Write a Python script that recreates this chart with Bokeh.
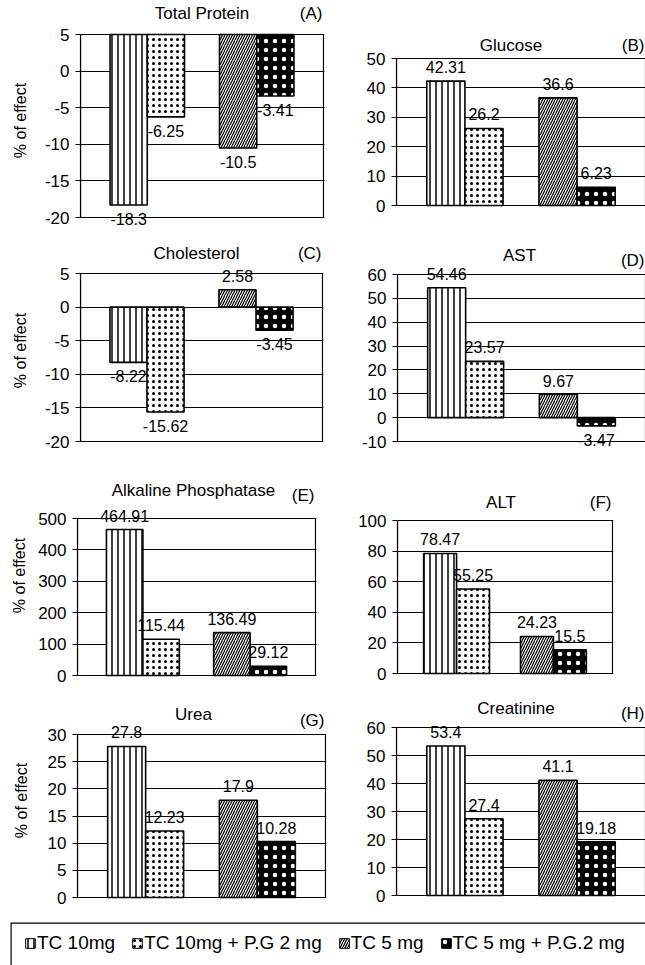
from bokeh.plotting import figure
from bokeh.models import (ColumnDataSource, Range1d, FixedTicker, LabelSet,
                          Label, Legend, LegendItem, PrintfTickFormatter)
from bokeh.core.properties import value
from bokeh.layouts import column, row
from bokeh.embed import file_html
from bokeh.resources import INLINE

# ---------------- data ----------------
panels = ["Total Protein", "Glucose", "Cholesterol", "AST",
          "Alkaline Phosphatase", "ALT", "Urea", "Creatinine"]
letters = ["(A)", "(B)", "(C)", "(D)", "(E)", "(F)", "(G)", "(H)"]
series = ["TC 10mg", "TC 10mg + P.G 2 mg", "TC 5 mg", "TC 5 mg + P.G.2 mg"]

tc10 = [-18.3, 42.31, -8.22, 54.46, 464.91, 78.47, 27.8, 53.4]
tc10_pg = [-6.25, 26.2, -15.62, 23.57, 115.44, 55.25, 12.23, 27.4]
tc5 = [-10.5, 36.6, 2.58, 9.67, 136.49, 24.23, 17.9, 41.1]
tc5_pg = [-3.41, 6.23, -3.45, -3.47, 29.12, 15.5, 10.28, 19.18]

y_min = [-20, 0, -20, -10, 0, 0, 0, 0]
y_max = [5, 50, 5, 60, 500, 100, 30, 60]
y_step = [5, 10, 5, 10, 100, 20, 5, 10]
bar_base = [5, 0, 0, 0, 0, 0, 0, 0]   # value the category axis crosses at

series_values = [tc10, tc10_pg, tc5, tc5_pg]
series_group = [0, 0, 1, 1]
series_side = [-1, 1, -1, 1]

# ---------------- styles ----------------
FONT = "Liberation Sans"
HALF = 0.17
BAR_W = 0.34
styles = [
    dict(fill_color="white", hatch_pattern="vertical_line", hatch_color="black",
         hatch_scale=6, hatch_weight=1.5),
    dict(fill_color="white", hatch_pattern="dot", hatch_color="black",
         hatch_scale=6, hatch_weight=1),
    dict(fill_color="white", hatch_pattern="right_diagonal_line", hatch_color="black",
         hatch_scale=5, hatch_weight=1.2),
    dict(fill_color="black", hatch_pattern="dot", hatch_color="white",
         hatch_scale=9, hatch_weight=7),
]

# geometry of each panel, in pixels:
# (fig width, fig height, box left, box right margin, box top, box bottom margin,
#  title dy, title dx, letter dy, axis label standoff)
geom = [
    (330, 240, 80, 7, 34, 23, 21, 0, 21, 13),
    (315, 240, 66, 0, 58, 35, 13, -10, 13, 0),
    (330, 220, 80, 8, 33, 19, 20, -5, 20, 13),
    (315, 220, 67, 0, 34, 19, 19, -2, 14, 0),
    (330, 230, 77, 15, 58, 15, 28, -3, 23, 7),
    (315, 230, 67, 33, 60, 17, 18, -4, 18, 0),
    (330, 220, 77, 5, 44, 13, 20, -8, 14, 15),
    (315, 220, 66, 0, 37, 15, 19, -5, 14, 0),
]

X0, X1 = -0.61, 1.61


def make_panel(i):
    w, h, L, R, T, B, tdy, tdx, ldy, als = geom[i]
    fw = w - L - R
    fh = h - T - B
    upx = (X1 - X0) / fw
    upy = (y_max[i] - y_min[i]) / fh
    pad_r = 1 if R >= 1 else 0
    p = figure(width=w, height=h, toolbar_location=None, output_backend="svg",
               x_range=Range1d(X0, X1 + pad_r * upx),
               y_range=Range1d(y_min[i] - B * upy, y_max[i] + T * upy),
               min_border_left=L, min_border_right=R - pad_r, min_border_top=0,
               min_border_bottom=0, x_axis_type=None)
    p.outline_line_color = None
    p.background_fill_color = "white"
    p.border_fill_color = "white"
    ticks = list(range(y_min[i], y_max[i] + 1, y_step[i]))
    p.yaxis.ticker = FixedTicker(ticks=ticks)
    p.yaxis.bounds = (y_min[i], y_max[i])
    p.yaxis.formatter = PrintfTickFormatter(format="%d")
    p.ygrid.ticker = FixedTicker(ticks=ticks)
    p.ygrid.grid_line_color = "black"
    p.ygrid.grid_line_width = 1
    p.yaxis.minor_tick_line_color = None
    p.yaxis.major_tick_out = 5
    p.yaxis.major_tick_in = 0
    p.yaxis.major_label_standoff = 6
    p.yaxis.axis_line_color = "black"
    p.yaxis.axis_line_width = 1.2
    p.yaxis.major_tick_line_color = "black"
    p.yaxis.major_label_text_font = FONT
    p.yaxis.major_label_text_font_size = "17px"
    p.yaxis.major_label_text_color = "black"
    if i % 2 == 0:
        p.yaxis.axis_label = "% of effect"
        p.yaxis.axis_label_text_font = FONT
        p.yaxis.axis_label_text_font_size = "16px"
        p.yaxis.axis_label_text_font_style = "normal"
        p.yaxis.axis_label_text_color = "black"
        p.yaxis.axis_label_standoff = als

    # plot-area box
    p.quad(left=[X0], right=[X1], bottom=[y_min[i]], top=[y_max[i]],
           fill_alpha=0, line_color="black", line_width=1.2)

    lab_x, lab_y, lab_t, lab_off = [], [], [], []
    for s in range(4):
        v = series_values[s][i]
        x = series_group[s] + series_side[s] * HALF
        src = ColumnDataSource(dict(x=[x], top=[v], bottom=[bar_base[i]]))
        p.vbar(x="x", top="top", bottom="bottom", width=BAR_W, source=src,
               line_color="black", line_width=1.6, **styles[s])
        lab_x.append(x)
        lab_y.append(v)
        lab_t.append(str(v))
        lab_off.append(14 if v >= bar_base[i] else -14)

    lsrc = ColumnDataSource(dict(x=lab_x, y=lab_y, t=lab_t, off=lab_off))
    p.add_layout(LabelSet(x="x", y="y", text="t", source=lsrc, y_offset="off",
                          text_align="center", text_baseline="middle",
                          text_font=value(FONT), text_font_size=value("16px"),
                          text_color="black"))

    p.add_layout(Label(x=(X0 + X1) / 2, y=y_max[i], text=panels[i],
                       x_offset=tdx, y_offset=tdy, text_align="center",
                       text_baseline="middle", text_font=FONT,
                       text_font_size="17px", text_color="black"))
    p.add_layout(Label(x=X1, y=y_max[i], text=letters[i],
                       x_offset=-1, y_offset=ldy, text_align="right",
                       text_baseline="middle", text_font=FONT,
                       text_font_size="17px", text_color="black"))
    return p


figs = [make_panel(i) for i in range(8)]

# ---------------- legend ----------------
lf = figure(width=645, height=55, toolbar_location=None, output_backend="svg",
            x_range=Range1d(0, 1), y_range=Range1d(0, 1),
            x_axis_type=None, y_axis_type=None,
            min_border_left=10, min_border_right=0, min_border_top=12, min_border_bottom=0)
lf.grid.visible = False
lf.outline_line_color = None
# legend box: only its top and left sides fall inside the page
lf.quad(left=[0], right=[2], bottom=[-1], top=[1], fill_alpha=0,
        line_color="black", line_width=2.4)
items = []
for s in range(4):
    r = lf.vbar(x=list(range(len(panels))), top=series_values[s], width=0.1,
                line_color="black", line_width=1, **styles[s])
    r.visible = False
    items.append(LegendItem(label=series[s], renderers=[r]))
legend = Legend(items=items, orientation="horizontal", location=(14, 11),
                label_text_font=FONT, label_text_font_size="19px",
                label_text_color="black", glyph_width=12, glyph_height=12,
                label_standoff=1, spacing=16, padding=0, margin=0,
                border_line_alpha=0, background_fill_alpha=0)
lf.add_layout(legend)

layout = column(
    row(figs[0], figs[1]),
    row(figs[2], figs[3]),
    row(figs[4], figs[5]),
    row(figs[6], figs[7]),
    lf,
)

open("out.html", "w").write(file_html(layout, INLINE))
